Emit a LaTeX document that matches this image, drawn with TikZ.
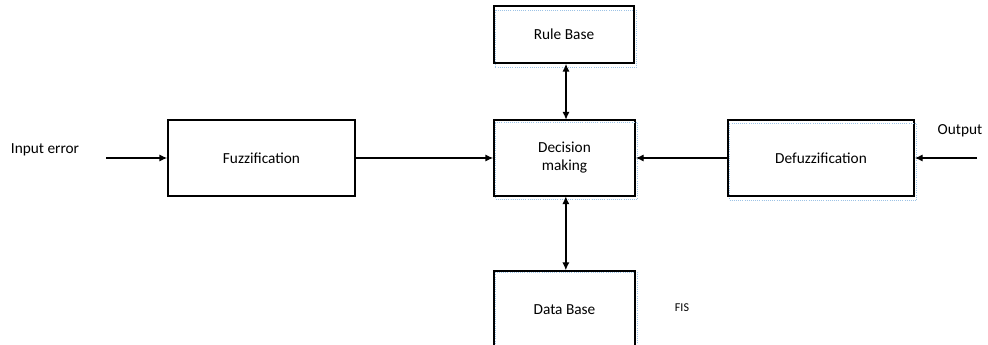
\documentclass[tikz,border=0pt]{standalone}
\usepackage{fontspec}
\setmainfont{Carlito}
\usetikzlibrary{arrows.meta}
\definecolor{shadowblue}{HTML}{9DC3E6}
\tikzset{
  blockbox/.style={draw=black, line width=1.1pt, fill=white, font=\fontsize{11.5}{13.5}\selectfont, align=center, inner sep=0pt},
  shadowline/.style={draw=shadowblue, densely dotted, line width=0.6pt},
  arr/.style={-{Latex[length=6pt,width=5.5pt]}, line width=1.1pt},
  darr/.style={{Latex[length=6pt,width=5.5pt]}-{Latex[length=6pt,width=5.5pt]}, line width=1.1pt},
  lbl/.style={font=\fontsize{11.5}{13.5}\selectfont, inner sep=0pt},
}
\begin{document}
\begin{tikzpicture}[x=0.75pt,y=-0.75pt]
\useasboundingbox (0,0) rectangle (988,345);
\clip (0,0) rectangle (988,345);
\fill[white] (0,0) rectangle (988,345);

% blocks
\node[blockbox, minimum width=140*0.75pt, minimum height=57*0.75pt] (rule) at (564,34.5) {Rule Base};
\node[blockbox, minimum width=141*0.75pt, minimum height=75*0.75pt] (dec) at (564.5,158) {Decision\\making};
\node[blockbox, minimum width=141*0.75pt, minimum height=78*0.75pt] (data) at (564.5,310) {Data Base};
\node[blockbox, minimum width=187*0.75pt, minimum height=76*0.75pt] (fuzz) at (261.5,158) {Fuzzification};
\node[blockbox, minimum width=186*0.75pt, minimum height=75*0.75pt] (defuzz) at (821,158) {Defuzzification};

% dotted shadow frames
\draw[shadowline] ([shift={(2,5)}]rule.north west) rectangle ([shift={(2,4)}]rule.south east);
\draw[shadowline] ([shift={(2,3)}]dec.north west) rectangle ([shift={(2,3)}]dec.south east);
\draw[shadowline] ([shift={(2,2)}]data.north west) rectangle ([shift={(2,2)}]data.south east);
\draw[shadowline] ([shift={(2,4)}]defuzz.north west) rectangle ([shift={(2,4)}]defuzz.south east);
\draw[line width=1.1pt] (rule.north west) rectangle (rule.south east);
\draw[line width=1.1pt] (dec.north west) rectangle (dec.south east);
\draw[line width=1.1pt] (data.north west) rectangle (data.south east);
\draw[line width=1.1pt] (defuzz.north west) rectangle (defuzz.south east);

% labels
\node[lbl] (inlbl) at (45,150) {Input error};
\node[lbl] (outlbl) at (960,131) {Output};
\node[inner sep=0pt, font=\fontsize{9}{11}\selectfont] (fis) at (682,308) {FIS};
\coordinate (instart) at (106,158);
\coordinate (outstart) at (977,158);

% connectors
\draw[arr] (instart) -- (instart -| fuzz.west);
\draw[arr] (fuzz.east) -- (fuzz.east -| dec.west);
\draw[arr] (defuzz.west) -- (dec.east);
\draw[arr] (outstart) -- (outstart -| defuzz.east);
\draw[darr] ([xshift=1.5]rule.south) -- ([xshift=1.5]rule.south |- dec.north);
\draw[darr] ([xshift=1]dec.south) -- ([xshift=1]dec.south |- data.north);
\end{tikzpicture}
\end{document}
